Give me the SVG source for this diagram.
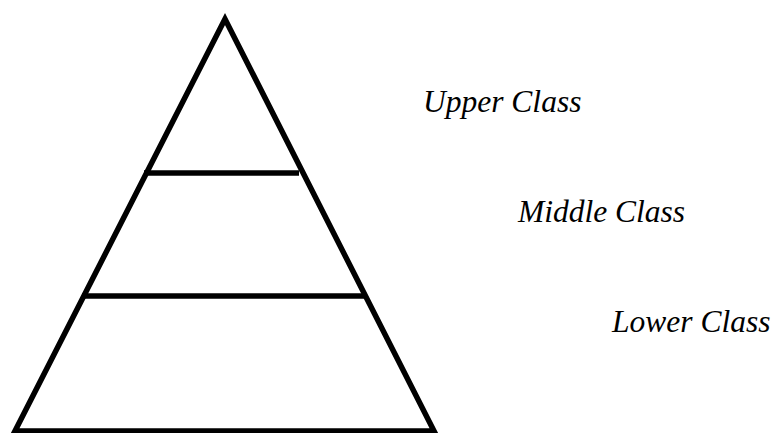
<svg xmlns="http://www.w3.org/2000/svg" width="776" height="433" viewBox="0 0 776 433">
<style>
.ln{stroke:#000;stroke-width:5.5;fill:none}
.lbl{font-family:'Liberation Serif','Times New Roman',serif;font-style:italic;font-size:31.5px;fill:#000}
</style>
<rect width="776" height="433" fill="#fff"/>
<g id="pyramid">
<polygon class="ln" points="225,19 15,431 434,431" stroke-linejoin="miter"/>
</g>
<g id="connectors">
<line class="ln" x1="144" y1="173" x2="299" y2="173"/>
<line class="ln" x1="82" y1="296" x2="364" y2="296"/>
</g>
<g id="upper"><text class="lbl" x="423" y="112">Upper Class</text></g>
<g id="middle"><text class="lbl" x="518" y="222">Middle Class</text></g>
<g id="lower"><text class="lbl" x="612" y="332">Lower Class</text></g>
</svg>
